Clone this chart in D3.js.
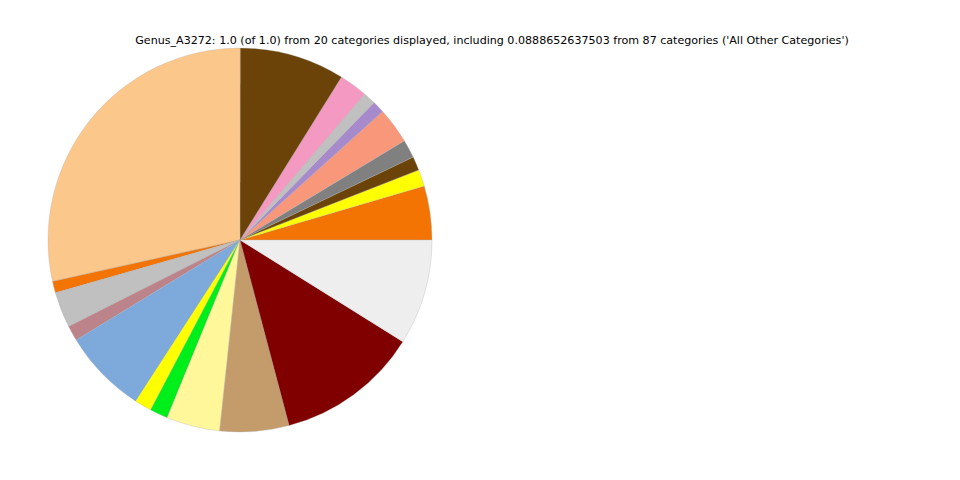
<!DOCTYPE html>
<html>
<head>
<meta charset="utf-8">
<script src="https://cdn.jsdelivr.net/npm/d3@7"></script>
<style>
  html, body { margin: 0; padding: 0; background: #fff; }
  svg { display: block; }
</style>
</head>
<body>
<svg id="chart" width="960" height="480"></svg>
<script>
const titleText = "Genus_A3272: 1.0 (of 1.0) from 20 categories displayed, including 0.0888652637503 from 87 categories ('All Other Categories')";
const categories = [
  "Cat 1", "Cat 2", "Cat 3", "Cat 4", "Cat 5", "Cat 6", "Cat 7", "Cat 8", "Cat 9", "Cat 10",
  "Cat 11", "Cat 12", "Cat 13", "Cat 14", "Cat 15", "Cat 16", "Cat 17", "Cat 18", "Cat 19",
  "All Other Categories"
];
const values = [
  0.0454, 0.0141, 0.0116, 0.0154, 0.0303, 0.0102, 0.0106, 0.0238, 0.0886, 0.2848,
  0.0098, 0.0301, 0.0128, 0.0713, 0.0144, 0.0151, 0.0451, 0.0581, 0.1200, 0.0889
];
const colors = [
  "#F37303", "#FFFF00", "#6B4309", "#808080", "#F9977A", "#A68ACB", "#C0C0C0", "#F49AC2", "#6B4309", "#FCC78A",
  "#F37303", "#C0C0C0", "#BC838B", "#7DA9DB", "#FFFF00", "#00EE1A", "#FFF79A", "#C49C6C", "#800000", "#EEEEEE"
];

const svg = d3.select("#chart");
const cx = 240, cy = 240, r = 192;

svg.append("text")
  .attr("x", 492).attr("y", 43.5)
  .attr("text-anchor", "middle")
  .attr("font-family", "DejaVu Sans, sans-serif")
  .attr("font-size", 11.1)
  .attr("fill", "#000")
  .text(titleText);

const data = categories.map((c, i) => ({ name: c, value: values[i], color: colors[i] }));

const pie = d3.pie()
  .value(d => d.value)
  .sort(null)
  .startAngle(Math.PI / 2)
  .endAngle(Math.PI / 2 - 2 * Math.PI);

const arc = d3.arc().innerRadius(0).outerRadius(r);

svg.append("g")
  .attr("transform", `translate(${cx},${cy})`)
  .selectAll("path")
  .data(pie(data))
  .join("path")
  .attr("d", arc)
  .attr("fill", d => d.data.color)
  .attr("stroke", "#aaa")
  .attr("stroke-width", 0.3);
</script>
</body>
</html>
